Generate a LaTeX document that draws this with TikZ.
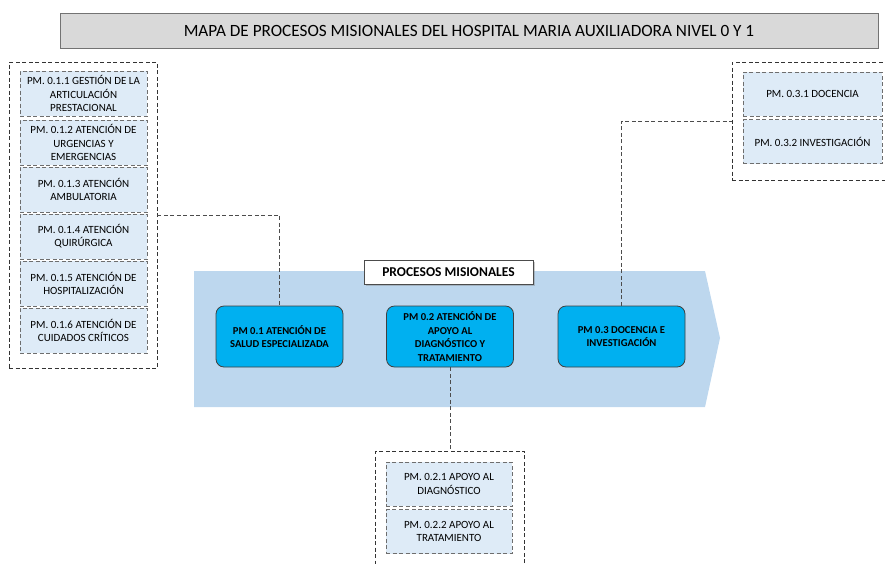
\documentclass[tikz,border=0pt]{standalone}
\usepackage{fontspec}
\setmainfont{Carlito}
\usetikzlibrary{shadows}
\definecolor{titlegray}{RGB}{217,217,217}
\definecolor{subblue}{RGB}{222,235,247}
\definecolor{bandblue}{RGB}{189,215,238}
\definecolor{mainblue}{RGB}{0,176,240}
\definecolor{edgegray}{RGB}{110,110,110}
\begin{document}
\begin{tikzpicture}[x=1pt,y=-1pt,font=\fontsize{11}{13.2}\selectfont]
\tikzstyle{group} = [rectangle, draw=black!80, dash pattern=on 4pt off 2.5pt, line width=0.7pt]
\tikzstyle{sub} = [rectangle, draw=edgegray, fill=subblue, dash pattern=on 4pt off 2.5pt, line width=0.8pt, align=center, minimum width=127pt, minimum height=45pt, inner sep=1pt]
\tikzstyle{proc} = [rectangle, draw=black!75, fill=mainblue, rounded corners=8pt, line width=0.8pt, align=center, minimum width=127pt, minimum height=61pt, inner sep=1pt, font=\fontsize{10.6}{13.5}\selectfont\bfseries]
\tikzstyle{link} = [draw=black!70, dash pattern=on 4pt off 2.5pt, line width=0.7pt]
\useasboundingbox (0,0) rectangle (885,563);
% title
\node[rectangle, draw=black!55, fill=titlegray, line width=0.9pt, minimum width=818pt, minimum height=35pt, font=\fontsize{17.2}{19}\selectfont] (title) at (469,30.5) {MAPA DE PROCESOS MISIONALES DEL HOSPITAL MARIA AUXILIADORA NIVEL 0 Y 1};
% band
\fill[bandblue] (194,271) -- (705,271) -- (720,338) -- (705,407) -- (194,407) -- cycle;
\node[rectangle, draw=black!70, fill=white, line width=0.9pt, drop shadow={shadow xshift=1.5pt, shadow yshift=-1.5pt, opacity=0.4}, minimum width=169pt, minimum height=24pt, font=\fontsize{13.5}{15}\selectfont\bfseries] (band) at (448.5,272) {PROCESOS MISIONALES};
\node[proc] (pm1) at (279.5,336.5) {PM 0.1 ATENCIÓN DE\\SALUD ESPECIALIZADA};
\node[proc] (pm2) at (450,336.5) {PM 0.2 ATENCIÓN DE\\APOYO AL\\DIAGNÓSTICO Y\\TRATAMIENTO};
\node[proc] (pm3) at (621.5,336.5) {PM 0.3 DOCENCIA E\\INVESTIGACIÓN};
% left group
\node[group, minimum width=148pt, minimum height=306pt] (leftgrp) at (83,215) {};
\foreach \y/\name/\txt in {93.5/a/{PM. 0.1.1 GESTIÓN DE LA\\ARTICULACIÓN\\PRESTACIONAL},
    142.5/b/{PM. 0.1.2 ATENCIÓN DE\\URGENCIAS Y\\EMERGENCIAS},
    189.5/c/{PM. 0.1.3 ATENCIÓN\\AMBULATORIA},
    236.5/d/{PM. 0.1.4 ATENCIÓN\\QUIRÚRGICA},
    283.5/e/{PM. 0.1.5 ATENCIÓN DE\\HOSPITALIZACIÓN},
    330.5/f/{PM. 0.1.6 ATENCIÓN DE\\CUIDADOS CRÍTICOS}}
  \node[sub] (sub1\name) at (83.5,\y) {\txt};
% right group
\node[group, minimum width=156pt, minimum height=118pt] (rightgrp) at (810,121) {};
\node[sub, minimum width=139pt, minimum height=44pt] (sub3a) at (812.5,94) {PM. 0.3.1 DOCENCIA};
\node[sub, minimum width=139pt, minimum height=44pt] (sub3b) at (812.5,141.5) {PM. 0.3.2 INVESTIGACIÓN};
% bottom group
\node[group, minimum width=149pt, minimum height=119pt] (botgrp) at (450,510.5) {};
\node[sub, minimum width=126pt, minimum height=44pt] (sub2a) at (449,484) {PM. 0.2.1 APOYO AL\\DIAGNÓSTICO};
\node[sub, minimum width=126pt, minimum height=44pt] (sub2b) at (449,531.5) {PM. 0.2.2 APOYO AL\\TRATAMIENTO};
% links
\draw[link] (leftgrp.east) -| (pm1.north);
\draw[link] (pm3.north) |- (rightgrp.west);
\draw[link] (pm2.south) -- (botgrp.north);
\end{tikzpicture}
\end{document}
